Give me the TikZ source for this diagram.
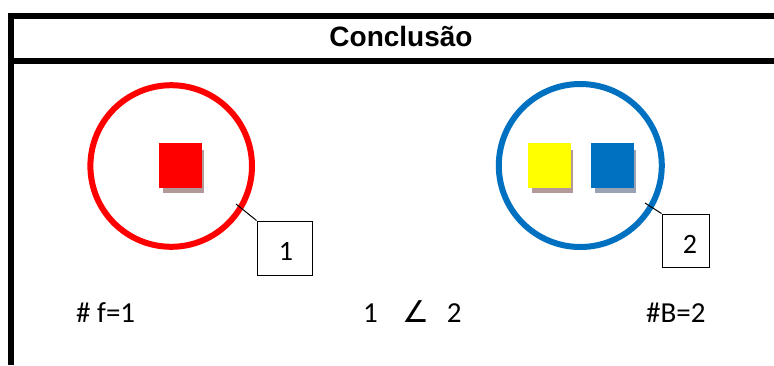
\documentclass[tikz,border=0pt]{standalone}
\usepackage{fontspec}
\setmainfont{Carlito}
\newfontfamily\titlefont{Liberation Sans}
\newfontfamily\symfont{DejaVu Sans}
\definecolor{setred}{HTML}{FF0000}
\definecolor{setblue}{HTML}{0070C0}
\definecolor{setyellow}{HTML}{FFFF00}
\definecolor{warmshadow}{HTML}{B39A98}
\definecolor{coolshadow}{HTML}{98A4B4}
\tikzset{
  frameline/.style={line width=6pt},
  setcircle/.style={line width=6pt},
  calloutbox/.style={draw=black, line width=1pt, inner sep=0pt},
  calloutline/.style={draw=black, line width=1pt},
  bodytext/.style={inner sep=0pt, font=\fontsize{29}{34}\selectfont},
  boxlabel/.style={inner sep=0pt, font=\fontsize{28}{32}\selectfont},
}
\begin{document}
\begin{tikzpicture}[x=1pt, y=-1pt]
\useasboundingbox (0,0) rectangle (774,365);
\fill[white] (0,0) rectangle (774,365);

% header frame
\draw[frameline] (774,16) -- (11,16) -- (11,365);
\draw[frameline] (8,61) -- (774,61);
\node[inner sep=0pt, anchor=base, font=\titlefont\bfseries\fontsize{28}{32}\selectfont] (title) at (401,46) {Conclusão};

% set f
\node[setcircle, draw=setred, circle, minimum size=161.6pt, inner sep=0pt] (cf) at (171.2,166) {};
\fill[warmshadow] (163,150) rectangle (204,193);
\fill[setred] (159,143) rectangle (202,188);
\coordinate (tipf) at (236,204);
\node[calloutbox, minimum width=55pt, minimum height=54pt] (box1) at (284.5,248) {};
\node[boxlabel] (lab1) at (286,251) {1};
\draw[calloutline] (tipf) -- (box1.north west);

% set B
\node[setcircle, draw=setblue, circle, minimum size=163pt, inner sep=0pt] (cb) at (580.3,165.5) {};
\fill[warmshadow] (532,150) rectangle (573,193);
\fill[setyellow] (528,143) rectangle (571,188);
\fill[coolshadow] (595,150) rectangle (636,193);
\fill[setblue] (591,143) rectangle (634,188);
\coordinate (tipb) at (645,203);
\node[calloutbox, minimum width=47pt, minimum height=53pt] (box2) at (685.5,240.5) {};
\node[boxlabel] (lab2) at (690,244) {2};
\draw[calloutline] (tipb) -- (box2.north west);

% cardinalities
\node[bodytext, anchor=base west] (cardf) at (76,322) {\# f=1};
\node[bodytext, anchor=base west] (cmp) at (363,322) {1\hspace{25pt}{\symfont\fontsize{30}{34}\selectfont ∠}\hspace{17pt}2};
\node[bodytext, anchor=base west] (cardb) at (646,322) {\#B=2};
\end{tikzpicture}
\end{document}
